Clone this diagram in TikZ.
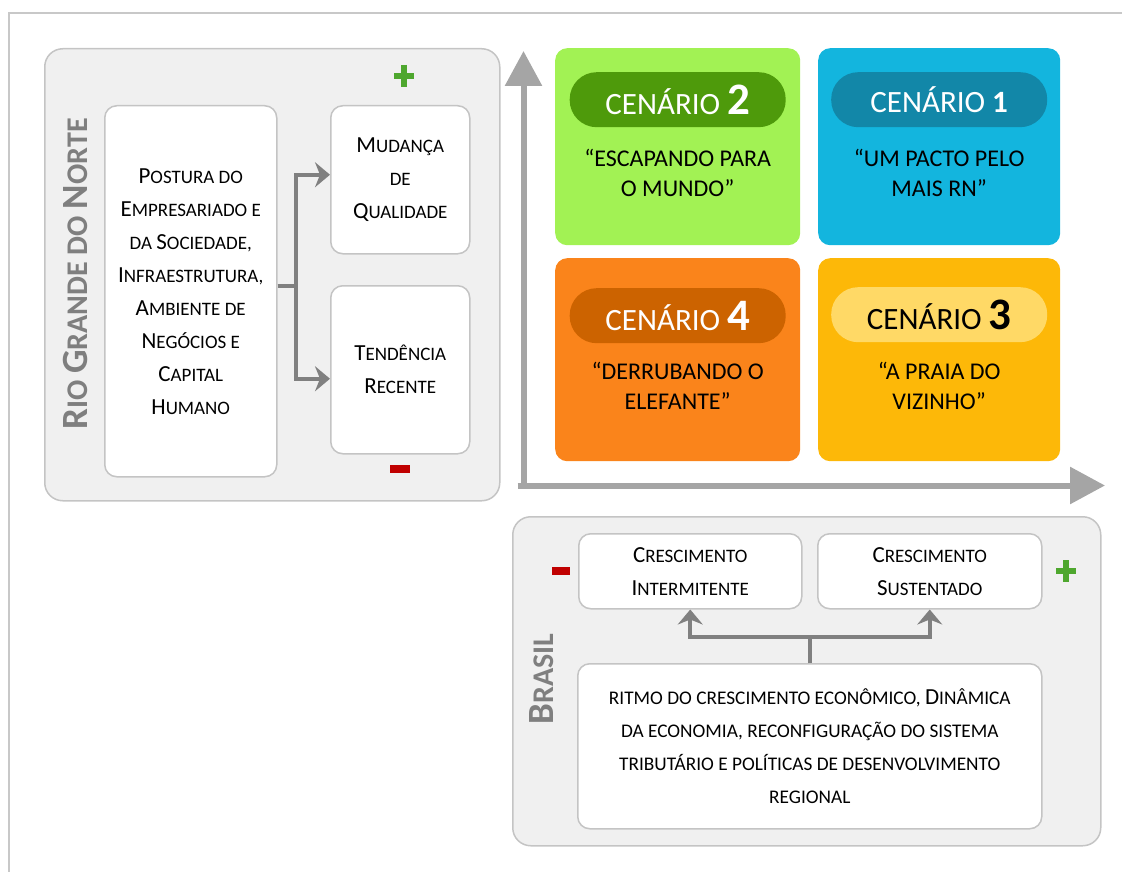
\documentclass[tikz,border=0pt]{standalone}
\usepackage{fontspec}
\setmainfont{Carlito}
\usepackage{xcolor}
\usepackage{tikz}
\usetikzlibrary{arrows.meta, positioning}

\definecolor{framegray}{HTML}{C8C8C8}
\definecolor{panelfill}{HTML}{F0F0F0}
\definecolor{panelline}{HTML}{C4C4C4}
\definecolor{boxline}{HTML}{C4C4C4}
\definecolor{linkgray}{HTML}{808080}
\definecolor{axisgray}{HTML}{A5A5A5}
\definecolor{titlegray}{HTML}{7F7F7F}
\definecolor{cardgreen}{HTML}{A2F254}
\definecolor{pillgreen}{HTML}{4E9A0B}
\definecolor{cardblue}{HTML}{13B5DE}
\definecolor{pillblue}{HTML}{1287A8}
\definecolor{cardorange}{HTML}{FA841B}
\definecolor{pillorange}{HTML}{CC6300}
\definecolor{cardyellow}{HTML}{FDB808}
\definecolor{pillyellow}{HTML}{FFD966}
\definecolor{plusgreen}{HTML}{4EA72E}
\definecolor{minusred}{HTML}{C00000}

\newcommand\capbig[1]{{\fontsize{23}{33}\selectfont #1}}
\newcommand\titlecap[1]{{\fontsize{37}{37}\selectfont #1}}
\newcommand\cenbig[1]{{\bfseries\fontsize{45}{45}\selectfont #1}}

\begin{document}
\begin{tikzpicture}[x=1pt, y=-1pt, node distance=24pt,
    panel/.style={draw=panelline, fill=panelfill, line width=1.5pt, rounded corners=18pt, inner sep=0pt, anchor=north west},
    textbox/.style={draw=boxline, fill=white, line width=1.5pt, rounded corners=12pt, inner sep=0pt, anchor=north west, align=center, font=\fontsize{19}{33}\selectfont},
    card/.style={rounded corners=12pt, inner sep=0pt, anchor=north west},
    pill/.style={rounded corners=27pt, minimum width=216pt, minimum height=55pt, inner sep=0pt, font=\fontsize{31}{31}\selectfont},
    quotetext/.style={align=center, font=\fontsize{24}{30}\selectfont},
    sidetitle/.style={rotate=90, text=titlegray, font=\bfseries\fontsize{30}{30}\selectfont},
    arrowlink/.style={draw=linkgray, line width=4pt, -{Stealth[length=15pt, width=25pt, inset=5pt]}},
    scenaxis/.style={draw=axisgray, line width=6pt, -{Triangle[length=35pt, width=36pt]}}]

    \useasboundingbox (0,0) rectangle (1122,872);
    \draw[framegray, line width=2pt] (8.5,872) -- (8.5,13.5) -- (1122,13.5);

    \node[panel, minimum width=455pt, minimum height=452pt] (rnpanel) at (44,48) {};
    \node[sidetitle] (rntitle) at (75,274) {\titlecap{R}IO \titlecap{G}RANDE DO \titlecap{N}ORTE};
    \node[textbox, minimum width=172pt, minimum height=371pt] (postura) at (104,105) {
        \capbig{P}OSTURA DO\\ \capbig{E}MPRESARIADO E\\ DA \capbig{S}OCIEDADE,\\ \capbig{I}NFRAESTRUTURA,\\
        \capbig{A}MBIENTE DE\\ \capbig{N}EGÓCIOS E\\ \capbig{C}APITAL\\ \capbig{H}UMANO
    };
    \node[textbox, minimum width=139pt, minimum height=148pt] (mudanca) at (330,105) {
        \capbig{M}UDANÇA\\ DE\\ \capbig{Q}UALIDADE
    };
    \node[textbox, minimum width=139pt, minimum height=168pt] (tendencia) at (330,285) {
        \capbig{T}ENDÊNCIA\\ \capbig{R}ECENTE
    };
    \draw[plusgreen, line width=6.5pt] (394,76) -- (414,76) (404,65) -- (404,87);
    \draw[minusred, line width=8pt] (390,469) -- (410,469);

    \coordinate (rnfork) at (296,286);
    \draw[arrowlink] (postura.east |- rnfork) -- (rnfork) |- ([yshift=5pt]mudanca.west);
    \draw[arrowlink] (postura.east |- rnfork) -- (rnfork) |- ([yshift=-9pt]tendencia.west);

    \node[card, fill=cardgreen, minimum width=245pt, minimum height=197pt] (card2) at (555,48) {};
    \node[card, fill=cardblue, minimum width=242pt, minimum height=197pt] (card1) at (818,48) {};
    \node[card, fill=cardorange, minimum width=245pt, minimum height=203pt] (card4) at (555,258) {};
    \node[card, fill=cardyellow, minimum width=242pt, minimum height=203pt] (card3) at (818,258) {};

    \node[pill, fill=pillgreen, text=white, below=24pt of card2.north] (pill2) {CENÁRIO \cenbig{2}};
    \node[pill, fill=pillblue, text=white, below=24pt of card1.north] (pill1) {CENÁRIO \textbf{1}};
    \node[pill, fill=pillorange, text=white, below=30pt of card4.north] (pill4) {CENÁRIO \cenbig{4}};
    \node[pill, fill=pillyellow, text=black, below=29pt of card3.north] (pill3) {CENÁRIO \cenbig{3}};

    \node[quotetext] (quote2) at ([yshift=-26pt]card2.center) {“ESCAPANDO PARA\\ O MUNDO”};
    \node[quotetext] (quote1) at ([yshift=-26pt]card1.center) {“UM PACTO PELO\\ MAIS RN”};
    \node[quotetext] (quote4) at ([yshift=-26pt]card4.center) {“DERRUBANDO O\\ ELEFANTE”};
    \node[quotetext] (quote3) at ([yshift=-26pt]card3.center) {“A PRAIA DO\\ VIZINHO”};

    \coordinate (origin) at (523.5,485.5);
    \coordinate (ytip) at (523.5,51);
    \coordinate (xtip) at (1105,485.5);
    \draw[scenaxis] ([yshift=-3pt]origin) -- (ytip);
    \draw[scenaxis] ([xshift=-6pt]origin) -- (xtip);

    \node[panel, minimum width=588pt, minimum height=329pt] (brpanel) at (512,516) {};
    \node[sidetitle] (brtitle) at (542,679) {\titlecap{B}RASIL};
    \node[textbox, minimum width=223pt, minimum height=75pt] (intermit) at (578,533) {
        \capbig{C}RESCIMENTO\\ \capbig{I}NTERMITENTE
    };
    \node[textbox, minimum width=224pt, minimum height=75pt] (sustent) at (817,533) {
        \capbig{C}RESCIMENTO\\ \capbig{S}USTENTADO
    };
    \node[textbox, minimum width=464pt, minimum height=165pt, font=\fontsize{19.3}{33}\selectfont] (brfactors) at (577,663) {
        RITMO DO CRESCIMENTO ECONÔMICO, \capbig{D}INÂMICA\\ DA ECONOMIA, RECONFIGURAÇÃO DO SISTEMA\\
        TRIBUTÁRIO E POLÍTICAS DE DESENVOLVIMENTO\\ REGIONAL
    };
    \draw[minusred, line width=8pt] (552,571) -- (570,571);
    \draw[plusgreen, line width=6.5pt] (1056,571) -- (1076,571) (1066,560) -- (1066,582);

    \draw[arrowlink] (brfactors.north) -- ++(0,-26) -| (intermit.south);
    \draw[arrowlink] (brfactors.north) -- ++(0,-26) -| (sustent.south);
\end{tikzpicture}
\end{document}
